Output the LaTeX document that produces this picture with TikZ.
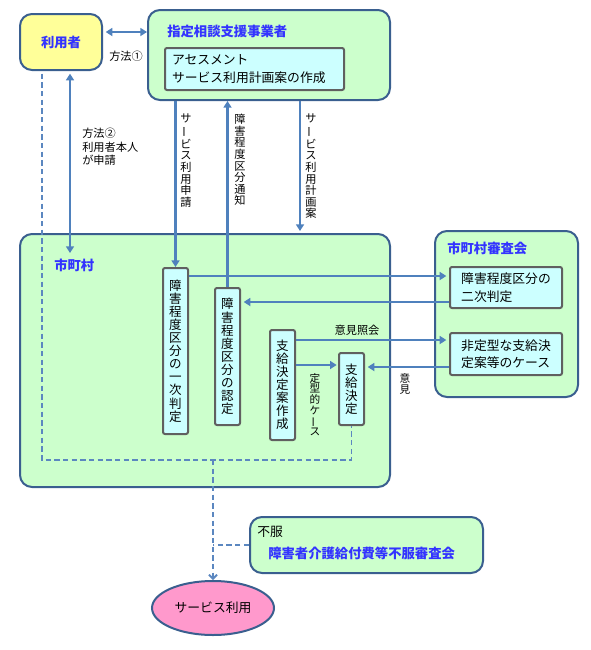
\documentclass[tikz,border=0pt]{standalone}
\usepackage{graphicx}
\usepackage{fontspec}
\setmainfont{Noto Sans CJK JP}
\usetikzlibrary{arrows.meta,shapes.geometric,positioning}

\definecolor{boxgreen}{HTML}{CCFFCC}
\definecolor{boxyellow}{HTML}{FFFF99}
\definecolor{boxcyan}{HTML}{CCFFFF}
\definecolor{boxpink}{HTML}{FF99CC}
\definecolor{edgeblue}{HTML}{3A5F8F}
\definecolor{arrowblue}{HTML}{4F81BD}
\definecolor{dashblue}{HTML}{5B87C0}
\definecolor{titleblue}{HTML}{3333FF}
\definecolor{edgegray}{HTML}{606060}

\newcommand{\vbar}{\rotatebox[origin=c]{90}{ー}}

\begin{document}
\begin{tikzpicture}[x=0.75pt,y=-0.75pt,
	wh/.style 2 args={minimum width=#1*0.75pt,minimum height=#2*0.75pt},
	group/.style={draw=edgeblue,line width=1.5pt,fill=boxgreen,rounded corners=9pt,inner sep=0pt},
	inner/.style={draw=edgegray,line width=1.5pt,fill=boxcyan,rounded corners=1.5pt,inner sep=0pt,
		font={\fontsize{9.6}{13}\selectfont}},
	vbox/.style={inner,align=center,font={\fontsize{9.4}{9.8}\selectfont}},
	title/.style={text=titleblue,font={\fontsize{10}{12}\selectfont\bfseries},inner sep=0pt},
	lbl/.style={inner sep=0pt,font={\fontsize{8.4}{10}\selectfont}},
	vlbl/.style={inner sep=0pt,align=center,font={\fontsize{8.4}{8.7}\selectfont}},
	flow/.style={draw=arrowblue,line width=2.2pt,-{Triangle[length=5pt,width=6pt]}},
	dashline/.style={draw=dashblue,line width=1.4pt,dash pattern=on 4pt off 2.5pt}]

	\useasboundingbox (0,0) rectangle (590,650);

	% upper part
	\node[group,fill=boxyellow,wh={82}{56}] (user) at (61,42) {};
	\node[title] at (user) {利用者};
	\node[group,wh={242}{90}] (agency) at (269,55) {};
	\node[title,anchor=west] (agencyT) at (167,31) {指定相談支援事業者};
	\node[inner,wh={179}{42},inner xsep=5.25pt,text width=123.75pt,align=left,anchor=west] (assess) at (164,69)
		{アセスメント\\サービス利用計画案の作成};

	\draw[flow,{Triangle[length=5pt,width=6pt]}-{Triangle[length=5pt,width=6pt]}]
		([xshift=2pt,yshift=7.5pt]user.east) -- ([yshift=7.5pt]user.east -| agency.west);
	\node[lbl,anchor=west] (way1) at (109,56) {方法①};

	% municipality
	\node[group,wh={370}{253}] (city) at (205,360.5) {};
	\node[title,anchor=west] (cityT) at (54,265) {市町村};
	\node[group,wh={143}{166}] (council) at (506.5,314) {};
	\node[title,anchor=west] (councilT) at (447,248) {市町村審査会};
	\node[inner,wh={112}{41},align=left] (second) at (506,287.5)
		{障害程度区分の\\二次判定};
	\node[inner,wh={112}{42},align=left] (atypical) at (506,354)
		{非定型な支給決\\定案等のケース};

	\node[vbox,wh={25}{166}] (first) at (175.5,351)
		{障\\害\\程\\度\\区\\分\\の\\一\\次\\判\\定};
	\node[vbox,wh={25}{137}] (cert) at (227.5,356.5)
		{障\\害\\程\\度\\区\\分\\の\\認\\定};
	\node[vbox,wh={25}{110}] (draft) at (282.5,385)
		{支\\給\\決\\定\\案\\作\\成};
	\node[vbox,wh={25}{72}] (decide) at (351.5,389)
		{支\\給\\決\\定};

	% method 2
	\coordinate (way2end) at (70,253);
	\draw[flow,{Triangle[length=5pt,width=6pt]}-{Triangle[length=5pt,width=6pt]}]
		([xshift=6.75pt,yshift=-2pt]user.south) -- (way2end);
	\node[lbl,anchor=north west,align=left] (way2) at (82,128) {方法②\\利用者本人\\が申請};

	% between agency and municipality
	\coordinate (plan) at (300,0);
	\draw[flow] (first.north |- agency.south) -- (first.north);
	\draw[flow] (cert.north) -- (cert.north |- agency.south);
	\draw[flow] (agency.south -| plan) -- ([yshift=1.5pt]city.north -| plan);
	\node[vlbl,anchor=north] (applyT) at (186,114)
		{サ\\\vbar\\ビ\\ス\\利\\用\\申\\請};
	\node[vlbl,anchor=north] (noticeT) at (240,114)
		{障\\害\\程\\度\\区\\分\\通\\知};
	\node[vlbl,anchor=north] (planT) at (311,114)
		{サ\\\vbar\\ビ\\ス\\利\\用\\計\\画\\案};

	% municipality and council
	\draw[flow] ([yshift=-6.75pt]first.north east) -- ([yshift=-6.75pt,xshift=-2pt]first.north east -| second.west);
	\draw[flow] ([yshift=5.25pt]second.south west) -- ([yshift=5.25pt,xshift=2pt]second.south west -| cert.east);
	\draw[flow] ([yshift=-8.25pt]draft.north east) -- ([yshift=-8.25pt,xshift=-2pt]draft.north east -| atypical.west);
	\node[lbl] (askT) at (357,330) {意見照会};
	\draw[flow] ([yshift=-27pt]draft.north east) -- ([yshift=-27pt,xshift=-1pt]draft.north east -| decide.west);
	\node[vlbl,font={\fontsize{8}{8}\selectfont},anchor=north] (typT) at (315,373)
		{定\\型\\的\\ケ\\\vbar\\ス};
	\draw[flow] ([yshift=6.75pt]atypical.south west) -- ([yshift=6.75pt,xshift=2pt]atypical.south west -| decide.east);
	\node[vlbl,font={\fontsize{8}{8.5}\selectfont},anchor=north] (opinT) at (405,373) {意\\見};

	% lower part
	\node[group,wh={233}{56}] (appeal) at (366.5,545) {};
	\node[lbl,font={\fontsize{9.6}{12}\selectfont},anchor=west] (appealT) at (257,532) {不服};
	\node[title,anchor=west] (appealN) at (268,553) {障害者介護給付費等不服審査会};
	\node[ellipse,draw=edgeblue,line width=1.5pt,fill=boxpink,wh={122}{54},
		font={\fontsize{9.6}{12}\selectfont}] (use) at (213,608) {サービス利用};

	\coordinate (dl) at (0,460);
	\draw[dashline] ([xshift=-14.25pt,yshift=-2pt]user.south) |- (decide.south |- dl) -- (decide.south);
	\draw[dashline,-{Straight Barb[length=3pt,width=6pt]}] (use.north |- dl) -- (use.north);
	\draw[dashline] (appeal.west) -- (appeal.west -| use.north);
\end{tikzpicture}
\end{document}
